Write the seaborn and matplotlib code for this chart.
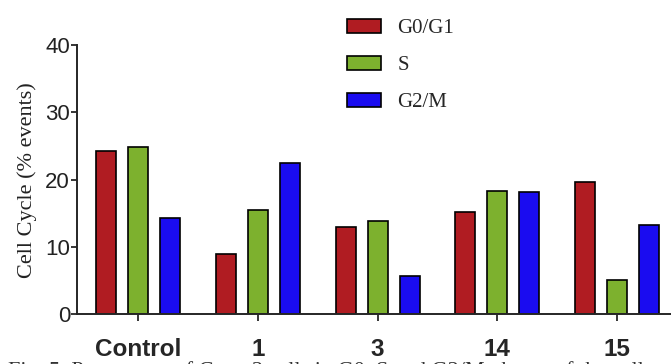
import pandas as pd
import numpy as np
import matplotlib.pyplot as plt
import seaborn as sns

# data
groups = ["Control", "1", "3", "14", "15"]
phases = ["G0/G1", "S", "G2/M"]
g0g1 = [24.2, 9.0, 13.0, 15.2, 19.7]
s_phase = [24.8, 15.5, 13.8, 18.3, 5.1]
g2m = [14.3, 22.4, 5.6, 18.1, 13.2]
colors = ["#b01c22", "#7db12e", "#1a0cf0"]

df = pd.DataFrame({
    "group": groups * 3,
    "phase": [phases[0]] * 5 + [phases[1]] * 5 + [phases[2]] * 5,
    "value": g0g1 + s_phase + g2m,
})

sns.set_style("ticks")
plt.rcParams['font.family'] = ['Liberation Sans', 'DejaVu Sans']

fig = plt.figure(figsize=(6.71, 3.64), dpi=100)
ax = fig.add_axes([0.1148, 0.137, 0.8852, 0.739])

sns.barplot(data=df, x="group", y="value", hue="phase", order=groups,
            hue_order=phases, palette=colors, gap=0.375, width=0.8,
            edgecolor="black", linewidth=1.2, saturation=1, ax=ax)

ax.set_xlim(-0.51, 4.45)
ax.set_ylim(0, 40)
ax.set_yticks([0, 10, 20, 30, 40])
ax.tick_params(axis="y", labelsize=16, length=4, width=1.3, direction="out", pad=1)
ax.tick_params(axis="x", length=5, width=1.3, direction="out", pad=12)
for lab in ax.get_xticklabels():
    lab.set_fontweight("bold")
    lab.set_fontsize(17.5)
    lab.set_bbox(dict(facecolor="white", edgecolor="none", pad=0.5))
    lab.set_zorder(5)
for lab in ax.get_yticklabels():
    lab.set_color("#222222")
sns.despine(ax=ax)
ax.spines["left"].set_linewidth(1.4)
ax.spines["bottom"].set_linewidth(1.4)

ax.set_xlabel("")
ax.set_ylabel("Cell Cycle (% events)", family="Liberation Serif", fontsize=16,
              labelpad=6, color="#222222")

leg = ax.legend(loc="upper left", bbox_to_anchor=(0.4545, 1.097), frameon=False,
                prop={"family": "Liberation Serif", "size": 15},
                handlelength=1.63, handleheight=0.63, labelspacing=0.86,
                handletextpad=0.8, borderpad=0, borderaxespad=0)

# figure caption, mostly cut off at the bottom edge as in the reference
fig.text(0.012, -0.032, "Fig. 5. Percentage of Caco-2 cells in G0, S and G2/M phases of the cell cycle obtained by",
         family="Liberation Serif", fontsize=16, color="#333333", va="baseline", zorder=0)

fig.savefig("out.png", dpi=100)
